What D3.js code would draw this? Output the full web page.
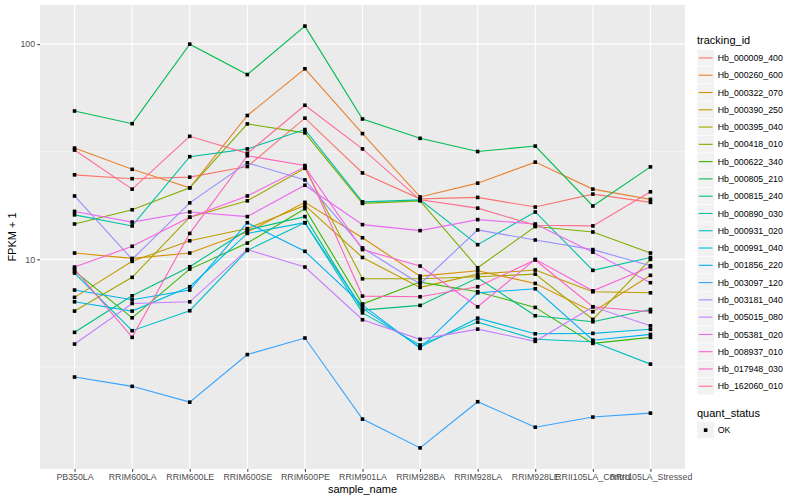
<!DOCTYPE html>
<html>
<head>
<meta charset="utf-8">
<script src="https://cdn.jsdelivr.net/npm/d3@7"></script>
<style>
  body { margin: 0; background: #fff; }
  text { font-family: "Liberation Sans", Arial, sans-serif; }
</style>
</head>
<body>
<div id="chart"></div>
<script>
// x categories
const samples = ["PB350LA", "RRIM600LA", "RRIM600LE", "RRIM600SE", "RRIM600PE",
  "RRIM901LA", "RRIM928BA", "RRIM928LA", "RRIM928LE", "RRII105LA_Control", "RRII105LA_Stressed"];

// FPKM + 1 per gene, one value per sample
const hb_000009_400 = [24.7, 23.7, 24.1, 27.0, 45.3, 25.2, 19.1, 19.4, 17.5, 20.1, 18.4];
const hb_000260_600 = [32.9, 26.2, 21.5, 46.6, 76.8, 38.4, 19.5, 22.6, 28.3, 21.2, 19.0];
const hb_000322_070 = [10.7, 10.1, 10.7, 13.4, 18.4, 12.6, 8.36, 8.85, 7.73, 5.71, 8.43];
const hb_000390_250 = [6.66, 9.79, 12.2, 13.9, 17.8, 10.2, 7.41, 8.54, 8.92, 7.07, 6.99];
const hb_000395_040 = [5.75, 8.25, 15.7, 18.7, 26.5, 8.12, 8.12, 8.30, 8.54, 5.26, 10.0];
const hb_000418_010 = [14.6, 17.0, 21.5, 42.6, 38.7, 18.2, 18.7, 9.14, 14.2, 13.4, 10.7];
const hb_000622_340 = [8.82, 5.35, 9.01, 11.9, 17.2, 6.20, 7.84, 7.07, 5.98, 4.07, 4.34];
const hb_000805_210 = [48.9, 42.7, 100, 72.2, 121.3, 44.9, 36.5, 31.7, 33.6, 17.7, 26.9];
const hb_000815_240 = [4.58, 6.77, 9.24, 13.7, 15.8, 5.81, 6.11, 8.21, 5.47, 5.13, 5.85];
const hb_000890_030 = [16.1, 14.3, 30.0, 32.6, 40.1, 18.5, 18.9, 11.7, 16.6, 8.89, 10.2];
const hb_000931_020 = [8.64, 4.66, 5.77, 11.0, 14.8, 5.64, 4.00, 5.11, 4.25, 4.14, 3.26];
const hb_000991_040 = [6.35, 5.75, 7.46, 13.2, 14.8, 5.92, 3.91, 5.33, 4.51, 4.53, 4.73];
const hb_001856_220 = [7.20, 6.49, 7.20, 14.8, 10.9, 6.13, 3.86, 6.99, 7.30, 4.21, 4.48];
const hb_003097_120 = [2.84, 2.57, 2.17, 3.61, 4.31, 1.81, 1.33, 2.18, 1.66, 1.85, 1.93];
const hb_003181_040 = [19.7, 10.0, 18.3, 28.1, 23.4, 11.3, 7.68, 13.7, 12.3, 11.1, 9.34];
const hb_005015_080 = [4.04, 6.24, 6.35, 11.1, 9.21, 5.24, 4.25, 4.74, 4.16, 6.02, 4.91];
const hb_005381_020 = [16.7, 14.9, 16.6, 15.8, 22.1, 14.5, 13.6, 15.3, 14.6, 10.8, 7.79];
const hb_008937_010 = [9.21, 11.5, 15.7, 19.7, 26.9, 11.1, 9.31, 6.02, 10.0, 7.14, 9.24];
const hb_017948_030 = [9.01, 4.34, 13.2, 30.3, 27.3, 6.75, 6.70, 7.46, 9.93, 6.02, 5.71];
const hb_162060_010 = [32.2, 21.2, 37.3, 31.1, 52.0, 32.6, 18.9, 17.3, 14.4, 14.3, 20.6];

const trackingIds = ["Hb_000009_400", "Hb_000260_600", "Hb_000322_070", "Hb_000390_250",
  "Hb_000395_040", "Hb_000418_010", "Hb_000622_340", "Hb_000805_210", "Hb_000815_240",
  "Hb_000890_030", "Hb_000931_020", "Hb_000991_040", "Hb_001856_220", "Hb_003097_120",
  "Hb_003181_040", "Hb_005015_080", "Hb_005381_020", "Hb_008937_010", "Hb_017948_030",
  "Hb_162060_010"];
const seriesValues = [hb_000009_400, hb_000260_600, hb_000322_070, hb_000390_250,
  hb_000395_040, hb_000418_010, hb_000622_340, hb_000805_210, hb_000815_240,
  hb_000890_030, hb_000931_020, hb_000991_040, hb_001856_220, hb_003097_120,
  hb_003181_040, hb_005015_080, hb_005381_020, hb_008937_010, hb_017948_030,
  hb_162060_010];
const yTicks = [10, 100];
const quantStatus = ["OK"];

// ggplot hue palette for 20 levels
const palette = ["#F8766D", "#EA8331", "#D89000", "#C09B00", "#A3A500", "#7CAE00", "#39B600",
  "#00BB4E", "#00BF7D", "#00C1A3", "#00BFC4", "#00BAE0", "#00B0F6", "#35A2FF", "#9590FF",
  "#C77CFF", "#E76BF3", "#FA62DB", "#FF62BC", "#FF6C90"];

const series = trackingIds.map((id, i) => ({ id: id, values: seriesValues[i] }));

const width = 800;
const height = 500;
const margin = { top: 5, right: 115, bottom: 31, left: 40 };

const svg = d3.select("#chart")
  .append("svg")
  .attr("width", width)
  .attr("height", height);

// x: discrete, ggplot style padding
const x = d3.scalePoint()
  .domain(samples)
  .range([margin.left, width - margin.right])
  .padding(0.6);

// y: log10 with 5% expansion on each side
const allValues = seriesValues.flat();
const lo = Math.log10(d3.min(allValues));
const hi = Math.log10(d3.max(allValues));
const pad = (hi - lo) * 0.05;
const y = d3.scaleLog()
  .domain([Math.pow(10, lo - pad), Math.pow(10, hi + pad)])
  .range([height - margin.bottom, margin.top]);

const color = d3.scaleOrdinal().domain(trackingIds).range(palette);

// panel background
svg.append("rect")
  .attr("x", margin.left)
  .attr("y", margin.top)
  .attr("width", width - margin.left - margin.right)
  .attr("height", height - margin.top - margin.bottom)
  .attr("fill", "#EBEBEB");

// minor grid (halfway between decades)
const minorTicks = yTicks.map(t => t / Math.sqrt(10)).concat([yTicks[yTicks.length - 1] * Math.sqrt(10)])
  .filter(t => t > y.domain()[0] && t < y.domain()[1]);
svg.selectAll(".minor-grid")
  .data(minorTicks)
  .enter()
  .append("line")
  .attr("class", "minor-grid")
  .attr("x1", margin.left)
  .attr("x2", width - margin.right)
  .attr("y1", d => y(d))
  .attr("y2", d => y(d))
  .attr("stroke", "#fff")
  .attr("stroke-width", 0.55);

// major grid
svg.selectAll(".major-grid")
  .data(yTicks)
  .enter()
  .append("line")
  .attr("class", "major-grid")
  .attr("x1", margin.left)
  .attr("x2", width - margin.right)
  .attr("y1", d => y(d))
  .attr("y2", d => y(d))
  .attr("stroke", "#fff")
  .attr("stroke-width", 1.1);

svg.selectAll(".x-grid")
  .data(samples)
  .enter()
  .append("line")
  .attr("class", "x-grid")
  .attr("x1", d => x(d))
  .attr("x2", d => x(d))
  .attr("y1", margin.top)
  .attr("y2", height - margin.bottom)
  .attr("stroke", "#fff")
  .attr("stroke-width", 1.1);

// lines
const line = d3.line()
  .x((d, i) => x(samples[i]))
  .y(d => y(d));

svg.selectAll(".gene-line")
  .data(series)
  .enter()
  .append("path")
  .attr("class", "gene-line")
  .attr("d", d => line(d.values))
  .attr("fill", "none")
  .attr("stroke", d => color(d.id))
  .attr("stroke-width", 1.1);

// points
const pointSize = 3.6;
series.forEach(s => {
  svg.selectAll(null)
    .data(s.values)
    .enter()
    .append("rect")
    .attr("x", (d, i) => x(samples[i]) - pointSize / 2)
    .attr("y", d => y(d) - pointSize / 2)
    .attr("width", pointSize)
    .attr("height", pointSize)
    .attr("fill", "#000");
});

// axes
const xAxis = svg.append("g")
  .attr("transform", `translate(0,${height - margin.bottom})`)
  .call(d3.axisBottom(x).tickSize(2.75).tickPadding(2.2));
const yAxis = svg.append("g")
  .attr("transform", `translate(${margin.left},0)`)
  .call(d3.axisLeft(y).tickValues(yTicks).tickFormat(d3.format("d")).tickSize(2.75).tickPadding(2.2));

[xAxis, yAxis].forEach(g => {
  g.select(".domain").remove();
  g.selectAll(".tick line").attr("stroke", "#333");
  g.selectAll(".tick text")
    .attr("fill", "#4D4D4D")
    .attr("font-size", "8.8px")
    .attr("font-family", "Liberation Sans, Arial, sans-serif");
});

// axis titles
svg.append("text")
  .attr("x", (margin.left + width - margin.right) / 2)
  .attr("y", 493)
  .attr("text-anchor", "middle")
  .attr("font-size", "11px")
  .text("sample_name");

svg.append("text")
  .attr("transform", `translate(16,${(margin.top + height - margin.bottom) / 2}) rotate(-90)`)
  .attr("text-anchor", "middle")
  .attr("font-size", "11px")
  .text("FPKM + 1");

// legend: tracking_id
const legendX = 697;
const keySize = 17.28;
const legend = svg.append("g");
legend.append("text")
  .attr("x", legendX)
  .attr("y", 44)
  .attr("font-size", "11px")
  .text("tracking_id");

const items = legend.selectAll(".legend-item")
  .data(trackingIds)
  .enter()
  .append("g")
  .attr("class", "legend-item")
  .attr("transform", (d, i) => `translate(${legendX},${49.3 + i * keySize})`);

items.append("rect")
  .attr("width", keySize)
  .attr("height", keySize)
  .attr("fill", "#F2F2F2")
  .attr("stroke", "#fff")
  .attr("stroke-width", 0.5);

items.append("line")
  .attr("x1", 1.7)
  .attr("x2", keySize - 1.7)
  .attr("y1", keySize / 2)
  .attr("y2", keySize / 2)
  .attr("stroke", d => color(d))
  .attr("stroke-width", 1.1);

items.append("text")
  .attr("x", keySize + 3.5)
  .attr("y", keySize / 2 + 3.1)
  .attr("font-size", "8.8px")
  .text(d => d);

// legend: quant_status
legend.append("text")
  .attr("x", legendX)
  .attr("y", 416.5)
  .attr("font-size", "11px")
  .text("quant_status");

const statusItems = legend.selectAll(".status-item")
  .data(quantStatus)
  .enter()
  .append("g")
  .attr("class", "status-item")
  .attr("transform", (d, i) => `translate(${legendX},${421.5 + i * keySize})`);

statusItems.append("rect")
  .attr("width", keySize)
  .attr("height", keySize)
  .attr("fill", "#F2F2F2")
  .attr("stroke", "#fff")
  .attr("stroke-width", 0.5);

statusItems.append("rect")
  .attr("x", keySize / 2 - pointSize / 2)
  .attr("y", keySize / 2 - pointSize / 2)
  .attr("width", pointSize)
  .attr("height", pointSize)
  .attr("fill", "#000");

statusItems.append("text")
  .attr("x", keySize + 3.5)
  .attr("y", keySize / 2 + 3.1)
  .attr("font-size", "8.8px")
  .text(d => d);
</script>
</body>
</html>
